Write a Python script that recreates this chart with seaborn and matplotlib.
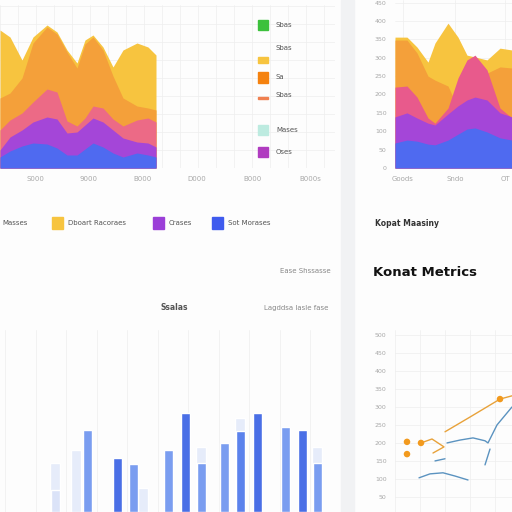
import numpy as np
import pandas as pd
import matplotlib
matplotlib.use("Agg")
import matplotlib.pyplot as plt
from matplotlib.patches import Rectangle
import seaborn as sns

# top-left area chart (overlapping areas from baseline)
tl_x = [0, 10, 22, 33, 47, 57, 67, 77, 85, 93, 103, 113, 123, 137, 148, 156]
tl_yellow = [138, 131, 108, 131, 143, 136, 118, 105, 128, 133, 121, 101, 118, 125, 121, 113]
tl_orange = [70, 75, 90, 125, 141, 134, 116, 100, 124, 131, 118, 92, 70, 62, 60, 58]
tl_pink = [38, 48, 55, 66, 79, 76, 47, 42, 50, 62, 60, 49, 42, 48, 50, 46]
tl_purple = [18, 31, 38, 46, 51, 49, 35, 36, 43, 50, 46, 38, 30, 26, 25, 21]
tl_blue = [11, 17, 22, 25, 24, 20, 13, 13, 19, 25, 21, 15, 11, 15, 13, 11]
tl_ticks = [35, 88, 142, 197, 252, 310]
tl_labels = ["S000", "9000", "B000", "D000", "B000", "B000s"]

# top-right area chart
tr_x = [0, 12, 22, 33, 40, 53, 63, 72, 80, 92, 105, 117]
tr_yellow = [356, 356, 329, 288, 340, 394, 356, 307, 302, 294, 326, 321]
tr_orange = [348, 348, 313, 250, 239, 223, 163, 150, 204, 258, 275, 272]
tr_pink = [220, 223, 193, 136, 122, 163, 245, 294, 307, 267, 163, 136]
tr_purple = [139, 150, 136, 122, 117, 147, 169, 185, 193, 185, 150, 139]
tr_blue = [68, 76, 73, 65, 63, 76, 92, 106, 109, 98, 82, 76]
tr_ticks = [8, 60, 110]
tr_labels = ["Goods", "Sndo", "OT"]
tr_yticks = [0, 50, 100, 150, 200, 250, 300, 350, 400, 450]

# bottom-left bars
bar_pos = [55, 87, 117, 133, 168, 185, 201, 224, 240, 257, 285, 302, 317]
bar_val = [22, 82, 54, 48, 62, 99, 49, 69, 81, 99, 85, 82, 49]
bar_shade = ["light", "mid", "dark", "mid", "mid", "dark", "mid", "mid", "dark2", "dark", "mid", "dark", "mid"]
ghost_pos = [55, 76, 143, 201, 240, 317]
ghost_val = [49, 62, 24, 65, 94, 65]

# bottom-right lines
or1_x = [1.04, 1.48, 1.96, 1.52]
or1_y = [200, 211, 189, 172]
or2_x = [2.0, 3.0, 4.2, 4.68]
or2_y = [231, 272, 322, 331]
bl1_x = [2.08, 2.6, 3.12, 3.6, 3.72, 4.08, 4.68]
bl1_y = [200, 208, 214, 206, 200, 250, 300]
bl2_x = [0.96, 1.4, 1.92, 2.4, 2.92]
bl2_y = [103, 114, 117, 108, 97]
bl3_x = [1.6, 2.0]
bl3_y = [150, 156]
bl4_x = [3.6, 3.8]
bl4_y = [139, 183]
dot_x = [0.48, 0.48, 1.04, 4.2]
dot_y = [203, 169, 200, 322]
br_yticks = [50, 100, 150, 200, 250, 300, 350, 400, 450, 500]

sns.set_theme(style="white")
plt.rcParams["font.family"] = ["DejaVu Sans"]

W = 512.0
fig = plt.figure(figsize=(5.12, 5.12), dpi=100)
fig.patch.set_facecolor("#fdfdfd")

def box(l, t, r, b):
    return [l / W, 1 - b / W, (r - l) / W, (b - t) / W]

yellow = "#f7c43f"
orange = "#f4a03a"
pink = "#ec6a86"
purple = "#a446d8"
blue = "#4f6af0"
grid_c = "#eeeeee"
tick_c = "#a8a8a8"

# divider band
fig.patches.append(Rectangle((341 / W, 0), 13 / W, 1, transform=fig.transFigure,
                             color="#f1f2f4", zorder=0))

# ---- top-left
ax = fig.add_axes(box(0, 5, 335, 168))
for gx in np.arange(0, 335, 18):
    ax.axvline(gx, color=grid_c, lw=0.5, zorder=0)
for gy in np.arange(0, 163, 18):
    ax.axhline(gy, color=grid_c, lw=0.5, zorder=0)
for ys, c in [(tl_yellow, yellow), (tl_orange, orange), (tl_pink, pink),
              (tl_purple, purple), (tl_blue, blue)]:
    ax.fill_between(tl_x, 0, ys, color=c, lw=0, zorder=2)
ax.set_xlim(0, 335)
ax.set_ylim(0, 163)
ax.set_xticks(tl_ticks)
ax.set_xticklabels(tl_labels, fontsize=5, color=tick_c)
ax.set_yticks([])
ax.grid(False)
ax.tick_params(length=0, pad=6)
ax.set_facecolor("none")
sns.despine(ax=ax, left=True, bottom=True)

# legend items right of top-left chart
leg = [(25, "#3cc13c", 10, "Sbas"), (60, yellow, 6, None), (77, "#f5820f", 11, "Sa"),
       (130, "#bdebe0", 10, "Mases"), (152, "#b03cc0", 10, "Oses")]
for yc, c, h, t in leg:
    fig.patches.append(Rectangle((258 / W, 1 - (yc + h / 2) / W), 10 / W, h / W,
                                 transform=fig.transFigure, color=c))
    if t:
        fig.text(276 / W, 1 - yc / W, t, fontsize=5, color="#555", va="center")
fig.text(276 / W, 1 - 48 / W, "Sbas", fontsize=5, color="#555", va="center")
fig.text(276 / W, 1 - 95 / W, "Sbas", fontsize=5, color="#555", va="center")
fig.patches.append(Rectangle((258 / W, 1 - 99 / W), 10 / W, 2 / W,
                             transform=fig.transFigure, color="#f08050"))

# bottom legend row
fig.text(2 / W, 1 - 223 / W, "Masses", fontsize=5, color="#555", va="center")
for x0, c, t in [(52, yellow, "Dboart Racoraes"), (153, "#9b3fd8", "Crases"),
                 (212, "#3f5bee", "Sot Morases")]:
    fig.patches.append(Rectangle((x0 / W, 1 - 229 / W), 11 / W, 12 / W,
                                 transform=fig.transFigure, color=c))
    fig.text((x0 + 16) / W, 1 - 223 / W, t, fontsize=5, color="#555", va="center")
fig.text(375 / W, 1 - 223 / W, "Kopat Maasiny", fontsize=5.5, color="#333",
         va="center", fontweight="bold")

# ---- top-right
ax2 = fig.add_axes(box(395, 0, 512, 168))
ax2.set_axisbelow(True)
for ys, c in [(tr_yellow, yellow), (tr_orange, orange), (tr_pink, "#e85a8c"),
              (tr_purple, purple), (tr_blue, blue)]:
    ax2.fill_between(tr_x, 0, ys, color=c, lw=0, zorder=2)
ax2.set_xlim(0, 117)
ax2.set_ylim(0, 457)
ax2.set_xticks(tr_ticks)
ax2.set_xticklabels(tr_labels, fontsize=5, color=tick_c)
ax2.set_yticks(tr_yticks)
ax2.set_yticklabels(tr_yticks, fontsize=4.5, color=tick_c)
ax2.grid(True, color=grid_c, lw=0.5)
ax2.tick_params(length=0, pad=6)
ax2.set_facecolor("none")
sns.despine(ax=ax2, left=True, bottom=True)

# ---- bottom-left bars
fig.text(305 / W, 1 - 271 / W, "Ease Shssasse", fontsize=5, color="#888", ha="center", va="center")
fig.text(174 / W, 1 - 308 / W, "Ssalas", fontsize=5.5, color="#555", ha="center", va="center",
         fontweight="bold")
fig.text(328 / W, 1 - 308 / W, "Lagddsa lasle fase", fontsize=5, color="#888", ha="right", va="center")

ax3 = fig.add_axes(box(0, 330, 335, 512))
gdf = pd.DataFrame({"x": ghost_pos, "v": ghost_val})
sns.barplot(data=gdf, x="x", y="v", native_scale=True, orient="x", color="#e6ecfa",
            width=0.43, errorbar=None, ax=ax3, saturation=1)
bdf = pd.DataFrame({"x": bar_pos, "v": bar_val, "shade": bar_shade})
pal = {"light": "#dbe3f8", "mid": "#7a9df0", "dark": "#4a6fe6", "dark2": "#5b82ec"}
sns.barplot(data=bdf, x="x", y="v", hue="shade", palette=pal, native_scale=True, orient="x",
            dodge=False, width=0.6, errorbar=None, legend=False, ax=ax3, saturation=1)
ax3.set_xlim(0, 335)
ax3.set_ylim(0, 182)
ax3.set_xticks(np.arange(5, 335, 30.5))
ax3.set_xticklabels([])
ax3.set_yticks([])
ax3.grid(True, axis="x", color="#f0f0f0", lw=0.6)
ax3.set_axisbelow(True)
ax3.tick_params(length=0)
ax3.set_xlabel("")
ax3.set_ylabel("")
ax3.set_facecolor("none")
sns.despine(ax=ax3, left=True, bottom=True)

# ---- bottom-right lines
fig.text(373 / W, 1 - 272 / W, "Konat Metrics", fontsize=9.5, color="#111", va="center",
         fontweight="bold")
ax4 = fig.add_axes(box(395, 330, 512, 512))
lc_o = "#e8a23a"
lc_b = "#5b93c0"
for xs, ys, c in [(or1_x, or1_y, lc_o), (or2_x, or2_y, lc_o), (bl1_x, bl1_y, lc_b),
                  (bl2_x, bl2_y, lc_b), (bl3_x, bl3_y, lc_b), (bl4_x, bl4_y, lc_b)]:
    sns.lineplot(x=xs, y=ys, sort=False, color=c, lw=1.0, ax=ax4)
sns.scatterplot(x=dot_x, y=dot_y, color="#f29a1e", s=22, edgecolor="none", ax=ax4, zorder=5)
ax4.set_xlim(0, 4.68)
ax4.set_ylim(8, 514)
ax4.set_xticks([0, 1, 2, 3, 4])
ax4.set_xticklabels([])
ax4.set_yticks(br_yticks)
ax4.set_yticklabels(br_yticks, fontsize=4.5, color=tick_c)
ax4.grid(True, color="#eeeeee", lw=0.5)
ax4.tick_params(length=0, pad=6)
ax4.set_facecolor("none")
sns.despine(ax=ax4, left=True, bottom=True)

fig.savefig("out.png", dpi=100, facecolor=fig.get_facecolor())
